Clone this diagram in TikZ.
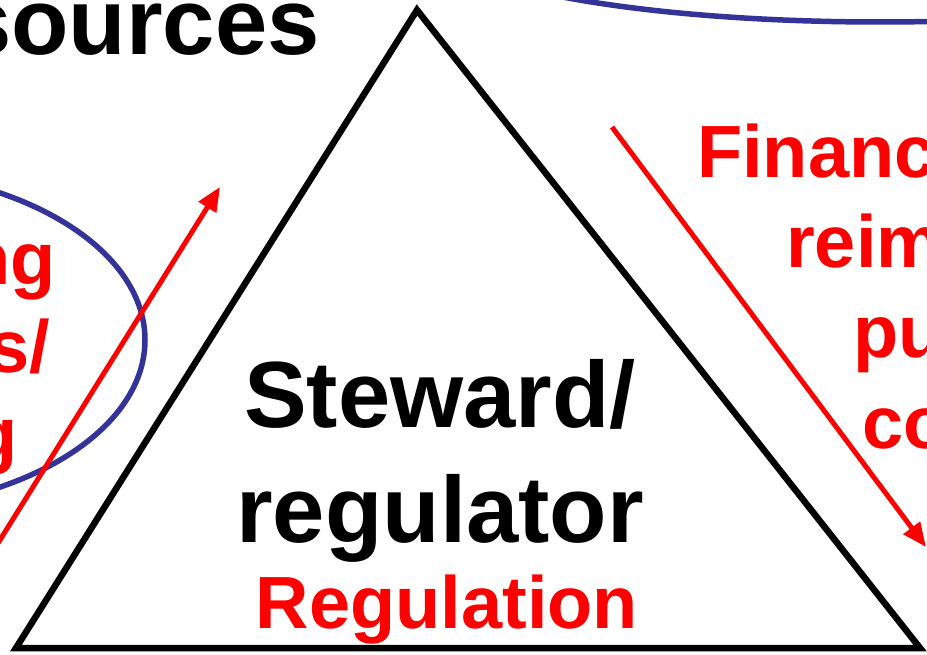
\documentclass[tikz,border=0pt]{standalone}
\usepackage{fontspec}
\setmainfont{Liberation Sans}
\usetikzlibrary{arrows.meta}
\definecolor{groupblue}{RGB}{51,51,153}
\definecolor{flowred}{RGB}{255,0,0}
\tikzset{
  side/.style={line width=6.5pt, black, line join=miter},
  group/.style={line width=5.5pt, groupblue},
  flow/.style={-{Triangle[length=24pt,width=20pt]}, line width=5pt, flowred},
  bigtxt/.style={font=\fontsize{94}{115}\selectfont\bfseries, inner sep=0pt},
  redtxt/.style={font=\fontsize{74}{90}\selectfont\bfseries, text=flowred, inner sep=0pt}
}
\begin{document}
\begin{tikzpicture}[x=1pt,y=-1pt]
\useasboundingbox (0,0) rectangle (927,655);
\clip (0,0) rectangle (927,655);
% triangle
\coordinate (top) at (417,10);
\coordinate (bl) at (16,648);
\coordinate (br) at (920,648);
\draw[side] (top) -- (bl) -- (br) -- cycle;
% groupings
\draw[group] (-146,340) ellipse [x radius=291, y radius=170];
\draw[group] (880,-64) ellipse [x radius=450, y radius=86];
% flows
\coordinate (up0) at (-20,572);
\coordinate (up1) at (220,187);
\coordinate (dn0) at (612,127);
\coordinate (dn1) at (926,547);
\draw[flow] (up0) -- (up1);
\draw[flow] (dn0) -- (dn1);
% labels
\node[bigtxt, align=center, anchor=base] (stew) at (440,542) {Steward/\\regulator};
\node[redtxt, anchor=base] (reg) at (447,628) {Regulation};
\node[bigtxt, anchor=base east] (res) at (320,55) {sources};
\node[redtxt, anchor=base west] (fin) at (697,178) {Financ};
\node[redtxt, anchor=base west] (reim) at (786,268) {reim};
\node[redtxt, anchor=base west] (pur) at (853,357) {pu};
\node[redtxt, anchor=base west] (con) at (862,448) {co};
\node[redtxt, anchor=base east] (ng) at (56,285) {ng};
\node[redtxt, anchor=base east] (sl) at (50,372) {s/};
\node[redtxt, anchor=base east] (gg) at (18,459) {g};
\end{tikzpicture}
\end{document}
